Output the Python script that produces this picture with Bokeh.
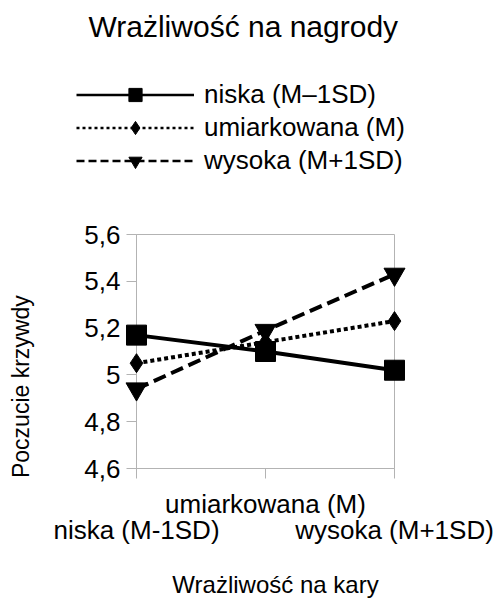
from bokeh.plotting import figure
from bokeh.models import (Range1d, FixedTicker, LinearAxis, Legend, LegendItem, Label,
                          CustomJSTickFormatter)
from bokeh.embed import file_html
from bokeh.resources import INLINE

# ---- data ----
chart_title = "Wrażliwość na nagrody"
x_title = "Wrażliwość na kary"
y_title = "Poczucie krzywdy"
categories = ["niska (M-1SD)", "umiarkowana (M)", "wysoka (M+1SD)"]
series_names = ["niska (M–1SD)", "umiarkowana (M)", "wysoka (M+1SD)"]
niska = [5.17, 5.10, 5.02]
umiarkowana = [5.05, 5.14, 5.23]
wysoka = [4.94, 5.19, 5.43]
y_ticks = [4.6, 4.8, 5.0, 5.2, 5.4, 5.6]

FONT = "Liberation Sans"
GREY = "#b3b3b3"
NB = "\u00a0"

xs = list(range(len(categories)))
styles = [
    dict(dash="solid", marker="square", size=20, ldash="solid"),
    dict(dash="4 3", marker="diamond", size=19, ldash="3 3"),
    dict(dash="13 6", marker="inverted_triangle", size=21, ldash="8 4"),
]
series = [niska, umiarkowana, wysoka]

# ---- header figure: title + legend (its own renderers lie outside its visible ranges) ----
h = figure(width=497, height=180, output_backend="svg", toolbar_location=None,
           x_axis_location=None, y_axis_location=None,
           x_range=Range1d(0, 1), y_range=Range1d(0, 1),
           min_border_left=0, min_border_right=0, min_border_top=0, min_border_bottom=0)
h.xgrid.visible = False
h.ygrid.visible = False
h.outline_line_color = None

items = []
for name, ys, st in zip(series_names, series, styles):
    lr = h.line(xs, ys, line_width=2.5, line_color="black", line_dash=st["ldash"])
    sr = h.scatter(xs, ys, marker=st["marker"], fill_color="black", line_color="black")
    items.append(LegendItem(label=name, renderers=[lr, sr]))

legend = Legend(items=items, location=(76, 3), glyph_width=118, glyph_height=33, label_height=33,
                spacing=0, padding=0, margin=0, border_line_color=None, background_fill_alpha=0,
                label_standoff=10, label_text_font=FONT, label_text_font_size="26px",
                label_text_baseline="middle", label_text_color="black")
h.add_layout(legend)
h.add_layout(Label(x=88, y=154, x_units="screen", y_units="screen", text=chart_title,
                   text_align="left", text_baseline="alphabetic", text_font=FONT,
                   text_font_size="30px", text_color="black"))

# ---- main chart ----
p = figure(width=497, height=420, x_range=Range1d(xs[0], xs[-1]), y_range=Range1d(y_ticks[0], y_ticks[-1]),
           output_backend="svg", toolbar_location=None, x_axis_location=None,
           min_border_left=136, min_border_right=103, min_border_top=54, min_border_bottom=131)
p.xgrid.visible = False
p.ygrid.visible = False
p.outline_line_color = GREY

ya = p.yaxis[0]
ya.ticker = FixedTicker(ticks=y_ticks)
ya.formatter = CustomJSTickFormatter(code="return tick.toFixed(1).replace('.0','').replace('.', ',');")
ya.major_label_text_font = FONT
ya.major_label_text_font_size = "26px"
ya.major_label_text_color = "black"
ya.axis_line_color = GREY
ya.major_tick_line_color = GREY
ya.major_tick_out = 10
ya.major_tick_in = 0
ya.minor_tick_line_color = None
ya.major_label_standoff = 6
ya.axis_label = y_title + NB * 11
ya.axis_label_text_font = FONT
ya.axis_label_text_font_size = "23px"
ya.axis_label_text_font_style = "normal"
ya.axis_label_text_color = "black"
ya.axis_label_standoff = 47
ya.axis_label_align = "center"

top_labels = ["", categories[1], ""]
bot_labels = [categories[0], "", categories[2]]
xa1 = LinearAxis(ticker=FixedTicker(ticks=xs),
                 formatter=CustomJSTickFormatter(args=dict(labels=top_labels),
                                                 code="return labels[Math.round(tick)];"))
xa1.axis_line_color = GREY
xa1.major_tick_line_color = GREY
xa1.major_tick_out = 10
xa1.major_tick_in = 0
xa1.minor_tick_line_color = None
xa1.major_label_standoff = 10
xa1.major_label_text_font = FONT
xa1.major_label_text_font_size = "26px"
xa1.major_label_text_color = "black"
p.add_layout(xa1, "below")

xa2 = LinearAxis(ticker=FixedTicker(ticks=[xs[0], xs[-1]]),
                 formatter=CustomJSTickFormatter(args=dict(labels=bot_labels),
                                                 code="return labels[Math.round(tick)];"))
xa2.axis_line_color = None
xa2.major_tick_line_color = None
xa2.major_tick_out = 0
xa2.major_tick_in = 0
xa2.minor_tick_line_color = None
xa2.major_label_standoff = -7
xa2.major_label_text_font = FONT
xa2.major_label_text_font_size = "26px"
xa2.major_label_text_color = "black"
xa2.axis_label = NB * 3 + x_title
xa2.axis_label_text_font = FONT
xa2.axis_label_text_font_size = "24px"
xa2.axis_label_text_font_style = "normal"
xa2.axis_label_text_color = "black"
xa2.axis_label_standoff = 23
p.add_layout(xa2, "below")

for ys, st in zip(series, styles):
    p.line(xs, ys, line_width=4, line_color="black", line_dash=st["dash"])
    p.scatter(xs, ys, marker=st["marker"], size=st["size"], fill_color="black", line_color="black",
              level="overlay")

open("out.html", "w").write(file_html([h, p], INLINE))
